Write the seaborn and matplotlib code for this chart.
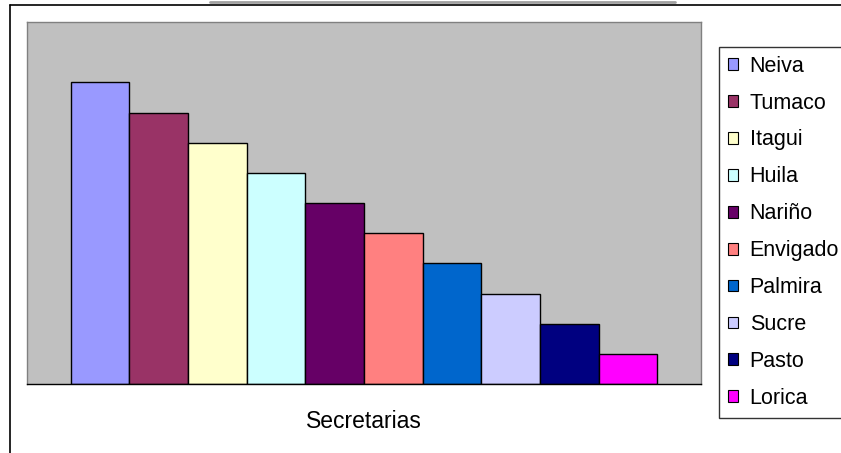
import matplotlib
matplotlib.use('Agg')
import matplotlib.pyplot as plt
import seaborn as sns
import pandas as pd
from matplotlib.lines import Line2D

# data
secretarias = ['Neiva', 'Tumaco', 'Itagui', 'Huila', 'Nariño',
               'Envigado', 'Palmira', 'Sucre', 'Pasto', 'Lorica']
valores = [10, 9, 8, 7, 6, 5, 4, 3, 2, 1]
grupo = ['Secretarias'] * len(secretarias)
colores = ['#9999FF', '#993366', '#FFFFCC', '#CCFFFF', '#660066',
           '#FF8080', '#0066CC', '#CCCCFF', '#000080', '#FF00FF']

df = pd.DataFrame({'grupo': grupo, 'secretaria': secretarias, 'valor': valores})

sns.set_style('white')
plt.rcParams['font.family'] = ['Liberation Sans', 'DejaVu Sans']
plt.rcParams['text.color'] = 'black'
plt.rcParams['xtick.labelcolor'] = 'black'

W, H = 841, 453
fs = 15.5
fig = plt.figure(figsize=(W / 100, H / 100), dpi=100)
ax = fig.add_axes([27 / W, 1 - 384 / H, 674 / W, 362 / H])
ax.set_facecolor('#C0C0C0')

sns.barplot(data=df, x='grupo', y='valor', hue='secretaria',
            palette=colores, width=0.87, edgecolor='black', linewidth=1,
            saturation=1, ax=ax, legend=True)

ax.set_xlim(-0.5, 0.5)
ax.set_ylim(0, 12)
ax.set_yticks([])
ax.set_ylabel('')
ax.set_xlabel('')
ax.tick_params(axis='x', which='major', length=0, pad=19, labelsize=16.5)
ax.set_xticks([-0.5, 0.5], minor=True)
ax.tick_params(axis='x', which='minor', length=5, width=1, color='black', direction='out')
for s in ['left', 'top', 'right']:
    ax.spines[s].set_color('#808080')
    ax.spines[s].set_linewidth(1)
ax.spines['bottom'].set_color('black')
ax.spines['bottom'].set_linewidth(1)

handles, labels = ax.get_legend_handles_labels()
ax.get_legend().remove()
leg = fig.legend(handles, labels, loc='upper left',
                 bbox_to_anchor=(719 / W, 1 - 47 / H), fontsize=fs,
                 handlelength=0.47, handleheight=0.47, handletextpad=0.55,
                 labelspacing=0.74, borderpad=0.4, frameon=True,
                 fancybox=False, borderaxespad=0)
leg.get_frame().set_edgecolor('black')
leg.get_frame().set_linewidth(1)
for p in leg.get_patches():
    p.set_edgecolor('black')
    p.set_linewidth(0.8)

# outer chart border (cut off at right and bottom)
fig.add_artist(Line2D([10 / W, 10 / W], [0, 1 - 5 / H], color='black', lw=1.2,
                      transform=fig.transFigure))
fig.add_artist(Line2D([10 / W, 1], [1 - 5 / H, 1 - 5 / H], color='black', lw=1.2,
                      transform=fig.transFigure))
# fragment of the title above the chart
fig.add_artist(Line2D([210 / W, 675 / W], [1 - 1.5 / H, 1 - 1.5 / H], color='#A0A0A0',
                      lw=2, transform=fig.transFigure))

fig.savefig('out.png', dpi=100)
